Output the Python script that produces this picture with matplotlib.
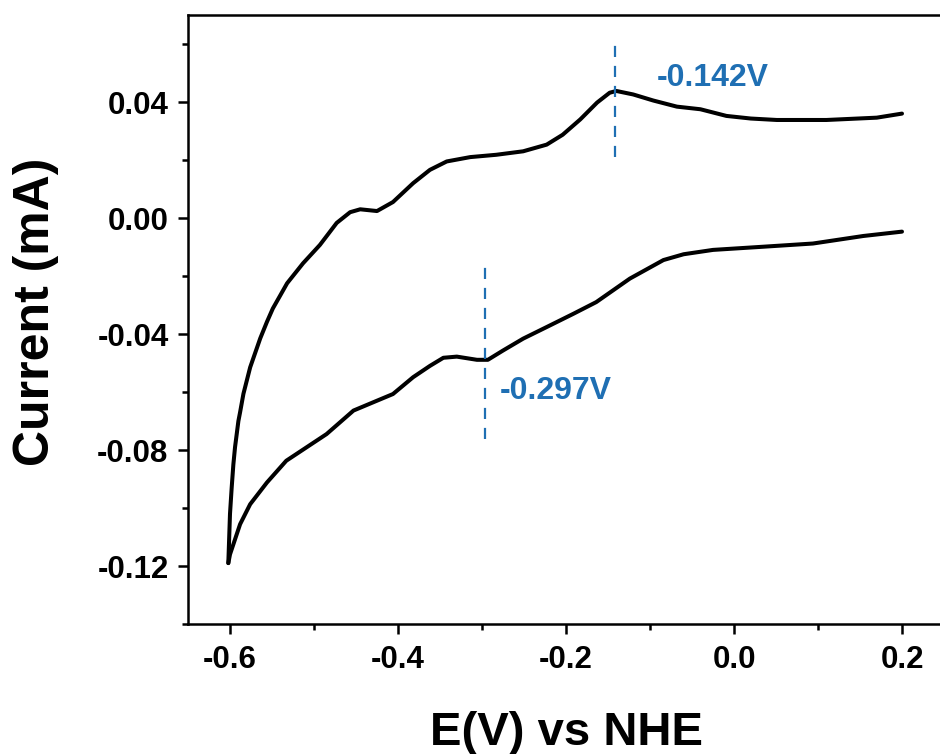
import matplotlib
matplotlib.use("Agg")
import matplotlib.pyplot as plt
from matplotlib.ticker import MultipleLocator, FormatStrFormatter

# --- dados (E em V vs NHE, corrente em mA) ---

# varrimento anódico (ramo de cima), de -0.6 até 0.2
e_ida = [-0.602, -0.600, -0.598, -0.596, -0.594, -0.590, -0.588, -0.584,
         -0.576, -0.570, -0.564, -0.556, -0.549, -0.540, -0.532,
         -0.513, -0.493, -0.473, -0.457, -0.445, -0.425, -0.406, -0.382,
         -0.362, -0.342, -0.314, -0.283, -0.251, -0.223, -0.204, -0.183,
         -0.163, -0.148, -0.140, -0.120, -0.096, -0.068, -0.040, -0.009,
         0.020, 0.051, 0.110, 0.170, 0.200]
i_ida = [-0.1190, -0.1020, -0.0930, -0.0850, -0.0790, -0.0700, -0.0670, -0.0606,
         -0.0515, -0.0465, -0.0415, -0.0358, -0.0312, -0.0266, -0.0225,
         -0.0156, -0.0093, -0.0017, 0.0020, 0.0030, 0.0024, 0.0055, 0.0120,
         0.0166, 0.0195, 0.0210, 0.0218, 0.0230, 0.0253, 0.0287, 0.0340,
         0.0398, 0.0432, 0.0438, 0.0426, 0.0405, 0.0384, 0.0375, 0.0352,
         0.0343, 0.0338, 0.0338, 0.0346, 0.0360]

# varrimento catódico (ramo de baixo), de 0.2 de volta a -0.6
e_volta = [0.200, 0.154, 0.094, 0.035, -0.025, -0.060, -0.084, -0.124,
           -0.164, -0.191, -0.223, -0.251, -0.275, -0.293, -0.306, -0.330,
           -0.346, -0.362, -0.382, -0.406, -0.425, -0.453, -0.485, -0.509,
           -0.533, -0.556, -0.576, -0.588, -0.600, -0.602]
i_volta = [-0.0047, -0.0062, -0.0088, -0.0099, -0.0110, -0.0125, -0.0145, -0.0209,
           -0.0290, -0.0330, -0.0376, -0.0416, -0.0457, -0.0489, -0.0489, -0.0478,
           -0.0482, -0.0510, -0.0549, -0.0607, -0.0630, -0.0664, -0.0745, -0.0791,
           -0.0837, -0.0912, -0.0987, -0.1056, -0.1160, -0.1190]

# picos marcados
picos_e = [-0.142, -0.297]
picos_txt = ["-0.142V", "-0.297V"]
picos_linha = [(0.0211, 0.0616), (-0.0761, -0.0168)]
picos_txt_pos = [(-0.092, 0.0483), (-0.279, -0.0597)]

azul = "#1f6fb3"

plt.rcParams['font.family'] = ['Liberation Sans', 'DejaVu Sans']
plt.rcParams['font.weight'] = 'bold'
plt.rcParams['axes.unicode_minus'] = False

fig = plt.figure(figsize=(9.4, 7.54), dpi=100)
ax = fig.add_axes([188 / 940, 130 / 754, 756 / 940, 609 / 754])

# os dois ramos ficam separados em 0.2 V
for e, i in [(e_ida, i_ida), (e_volta, i_volta)]:
    ax.plot(e, i, color='black', lw=2.9,
            solid_joinstyle='round', solid_capstyle='round')

for e, (y0, y1), txt, (tx, ty) in zip(picos_e, picos_linha, picos_txt, picos_txt_pos):
    ax.plot([e, e], [y0, y1], color=azul, lw=1.6, dashes=(5, 4))
    ax.text(tx, ty, txt, color=azul, fontsize=23, fontweight='bold',
            ha='left', va='center')

ax.set_xlim(-0.65, 0.25)
ax.set_ylim(-0.14, 0.07)

ax.xaxis.set_major_locator(MultipleLocator(0.2))
ax.xaxis.set_minor_locator(MultipleLocator(0.1))
ax.yaxis.set_major_locator(MultipleLocator(0.04))
ax.yaxis.set_minor_locator(MultipleLocator(0.02))
ax.xaxis.set_major_formatter(FormatStrFormatter('%.1f'))
ax.yaxis.set_major_formatter(FormatStrFormatter('%.2f'))

ax.tick_params(which='major', direction='out', length=7, width=1.8,
               labelsize=22.5, pad=7)
ax.tick_params(which='minor', direction='out', length=4.5, width=1.8)
ax.tick_params(axis='x', which='major', pad=8)
for s in ax.spines.values():
    s.set_linewidth(1.8)

ax.set_xlabel("E(V) vs NHE", fontsize=34, fontweight='bold', labelpad=26)
ax.set_ylabel("Current (mA)", fontsize=36, fontweight='bold')
ax.yaxis.set_label_coords(-0.17, 0.512)

fig.savefig("out.png", dpi=100)
